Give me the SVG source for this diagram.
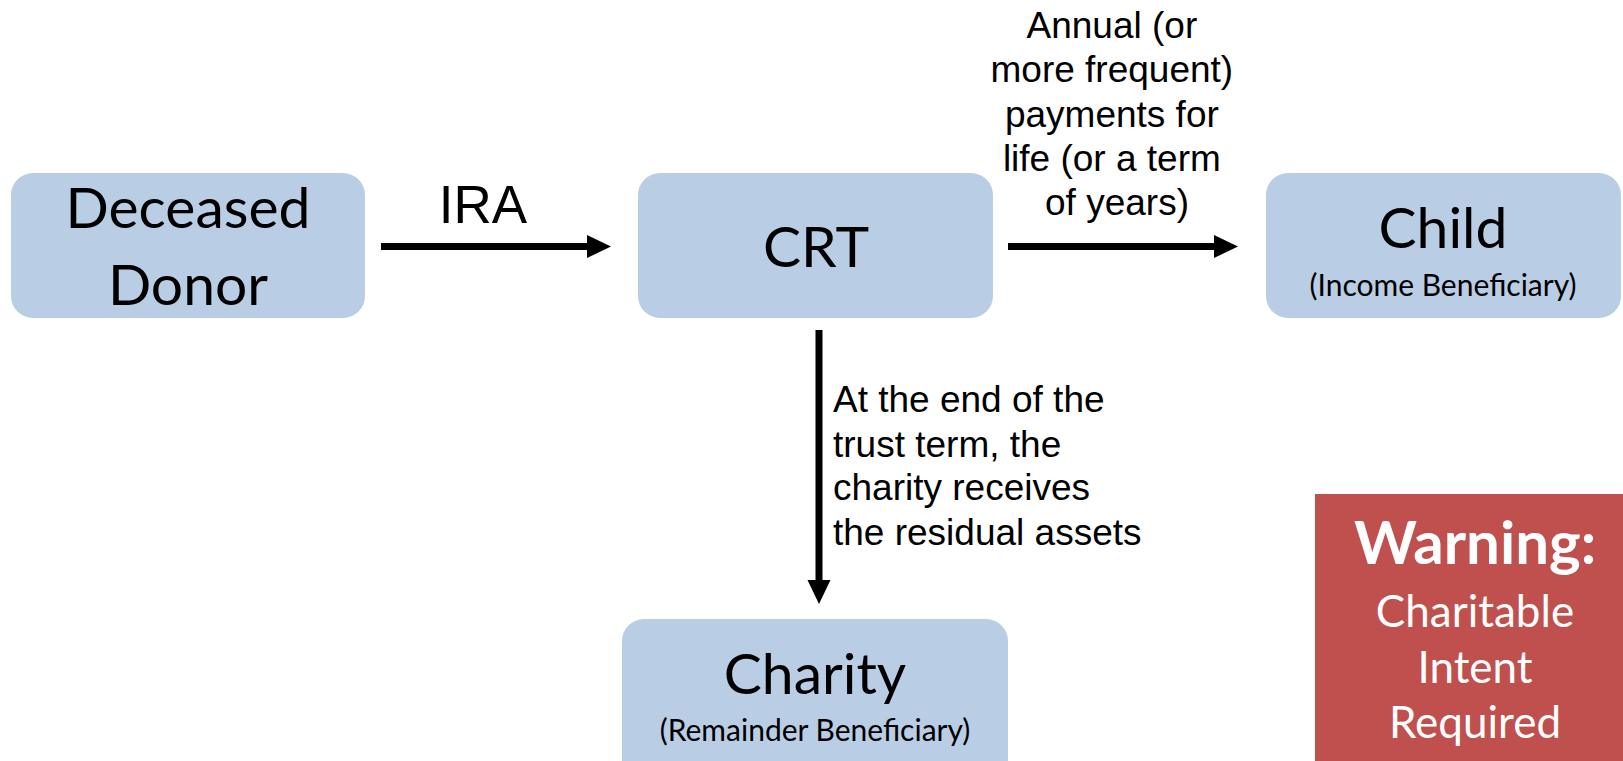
<svg xmlns="http://www.w3.org/2000/svg" width="1623" height="761" viewBox="0 0 1623 761">
<style>
.box{fill:#B9CDE5}
.lbl{font-family:Lato,"Noto Sans",sans-serif;fill:#000;text-anchor:middle}
.big{font-size:57px}
.sub{font-size:30px}
.edge{font-family:"Liberation Sans",Arial,sans-serif;font-size:37px;fill:#000}
.ira{font-family:"Liberation Sans",Arial,sans-serif;font-size:53px;fill:#000;text-anchor:middle}
.conn{stroke:#000;stroke-width:7;fill:none}
.warn{font-family:Lato,"Noto Sans",sans-serif;fill:#fff;text-anchor:middle;font-size:44px}
.warnh{font-size:60px;font-weight:bold}
</style>
<defs>
<marker id="ah" markerUnits="userSpaceOnUse" markerWidth="24" markerHeight="24" viewBox="0 -12 24 24" refX="0" refY="0" orient="auto">
<path d="M0,-11.5 L24,0 L0,11.5 Z" fill="#000"/>
</marker>
</defs>
<g id="donor">
<rect class="box" x="11" y="173" width="354" height="145" rx="22"/>
<text class="lbl big" x="188" y="228">Deceased</text>
<text class="lbl big" x="188" y="305">Donor</text>
</g>
<g id="crt">
<rect class="box" x="638" y="173" width="355" height="145" rx="22"/>
<text class="lbl big" x="816" y="267">CRT</text>
</g>
<g id="child">
<rect class="box" x="1266" y="173" width="355" height="145" rx="22"/>
<text class="lbl big" x="1443" y="248">Child</text>
<text class="lbl sub" x="1443" y="296">(Income Beneficiary)</text>
</g>
<g id="charity">
<rect class="box" x="622" y="619" width="386" height="170" rx="22"/>
<text class="lbl big" x="815" y="694">Charity</text>
<text class="lbl sub" x="815" y="741">(Remainder Beneficiary)</text>
</g>
<g id="warning">
<rect x="1315" y="494" width="308" height="267" fill="#C0504D"/>
<text class="warn warnh" x="1475" y="564">Warning:</text>
<text class="warn" x="1475" y="627">Charitable</text>
<text class="warn" x="1475" y="683">Intent</text>
<text class="warn" x="1475" y="738">Required</text>
</g>
<g id="connectors">
<line class="conn" x1="381" y1="246.5" x2="587" y2="246.5" marker-end="url(#ah)"/>
<text class="ira" x="483" y="223">IRA</text>
<line class="conn" x1="1008" y1="246.5" x2="1214" y2="246.5" marker-end="url(#ah)"/>
<text class="edge" text-anchor="middle">
<tspan x="1117" y="38">Annual (or</tspan>
<tspan x="1117" y="82">more frequent)</tspan>
<tspan x="1117" y="127">payments for</tspan>
<tspan x="1117" y="171">life (or a term</tspan>
<tspan x="1117" y="215">of years)</tspan>
</text>
<line class="conn" x1="819" y1="330" x2="819" y2="580" marker-end="url(#ah)"/>
<text class="edge">
<tspan x="833" y="412">At the end of the</tspan>
<tspan x="833" y="457">trust term, the</tspan>
<tspan x="833" y="500">charity receives</tspan>
<tspan x="833" y="545">the residual assets</tspan>
</text>
</g>
</svg>
